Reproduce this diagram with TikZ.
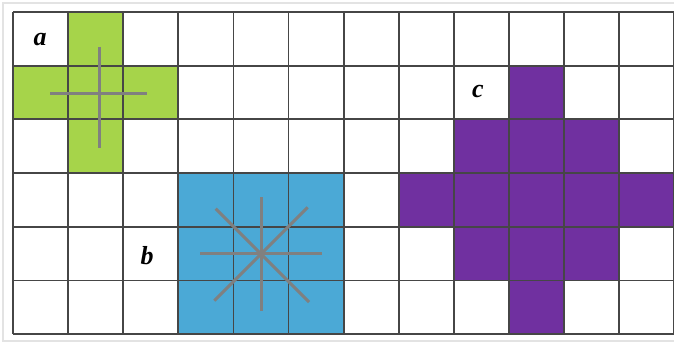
\documentclass[tikz,border=0pt]{standalone}
\usepackage{fontspec}
\setmainfont{Liberation Serif}
\usetikzlibrary{calc}
\definecolor{cgreen}{RGB}{166,212,74}
\definecolor{cblue}{RGB}{75,169,214}
\definecolor{cpurple}{RGB}{112,48,160}
\definecolor{cgrid}{RGB}{70,70,70}
\definecolor{cline}{RGB}{128,128,128}
\begin{document}
\begin{tikzpicture}[x=1pt,y=-1pt,
  gridline/.style={draw=cgrid,line width=1.8pt},
  axisline/.style={draw=cline,line width=3pt},
  lbl/.style={font=\fontsize{26}{28}\selectfont\bfseries\itshape,inner sep=0pt},
  cellg/.style={fill=cgreen},
  cellb/.style={fill=cblue},
  cellp/.style={fill=cpurple}]
\useasboundingbox (0,0) rectangle (674,344);
\fill[white] (0,0) rectangle (674,344);
\draw[gray!22,line width=2pt] (3,3) rectangle (690,341);
\def\cw{55.1}
\def\ch{53.7}
\begin{scope}
\clip (0,0) rectangle (674,344);
% green cross (a)
\foreach \c/\r in {1/0,0/1,1/1,2/1,1/2}
  \fill[cellg] ({13+\c*\cw},{12+\r*\ch}) rectangle ++(\cw,\ch);
% blue square (b)
\fill[cellb] ({13+3*\cw},{12+3*\ch}) rectangle ({13+6*\cw},{12+6*\ch});
% purple diamond (c)
\foreach \c/\r in {9/1,8/2,9/2,10/2,7/3,8/3,9/3,10/3,11/3,8/4,9/4,10/4,9/5}
  \fill[cellp] ({13+\c*\cw},{12+\r*\ch}) rectangle ++(\cw,\ch);
% grid
\foreach \i in {0,...,12}
  \draw[gridline] ({13+\i*\cw},12) -- ({13+\i*\cw},{12+6*\ch});
\foreach \j in {0,...,6}
  \draw[gridline] (13,{12+\j*\ch}) -- (680,{12+\j*\ch});
\end{scope}
% cross lines in a
\coordinate (ca) at (99,94);
\draw[axisline] ($(ca)+(-49,0)$) -- ($(ca)+(48,0)$);
\draw[axisline] ($(ca)+(0,-47)$) -- ($(ca)+(0,54)$);
% star in b
\coordinate (cb) at (261,254);
\foreach \a/\r in {0/61,180/61,90/57,270/57,45/68,135/66,225/64,315/66}
  \draw[axisline] (cb) -- ++({\a}:{\r});
% labels
\node[lbl] (la) at (40,40) {a};
\node[lbl] (lb) at (147,256) {b};
\node[lbl] (lc) at (478,92) {c};
\end{tikzpicture}
\end{document}
